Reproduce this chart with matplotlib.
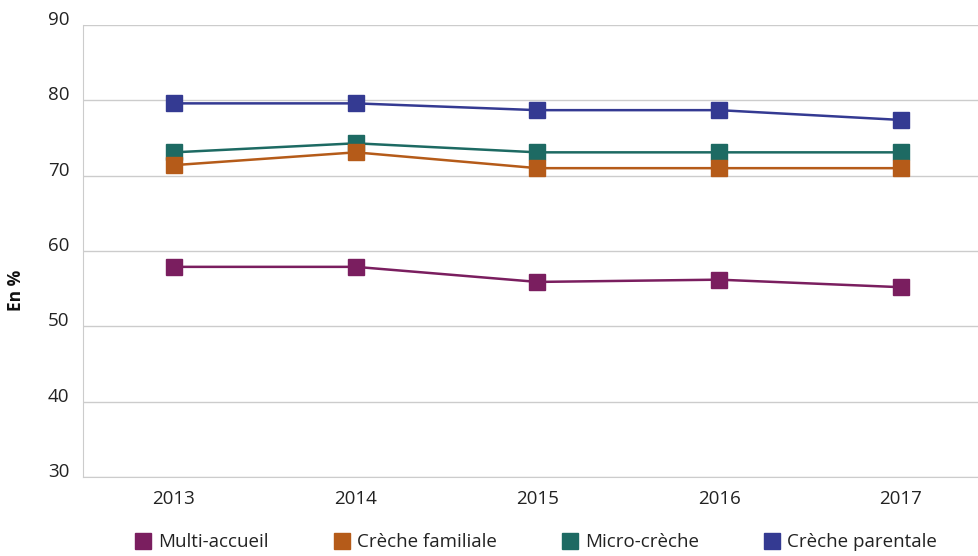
import matplotlib.pyplot as plt
from matplotlib.lines import Line2D

plt.rcParams['font.family'] = ['Open Sans', 'DejaVu Sans']

years = ["2013", "2014", "2015", "2016", "2017"]
multi_accueil = [57.9, 57.9, 55.9, 56.2, 55.2]
creche_familiale = [71.4, 73.1, 71.0, 71.0, 71.0]
micro_creche = [73.1, 74.3, 73.1, 73.1, 73.1]
creche_parentale = [79.6, 79.6, 78.7, 78.7, 77.4]

series = [
    ("Multi-accueil", multi_accueil, "#7a1e5f", 3),
    ("Crèche familiale", creche_familiale, "#b55b19", 5),
    ("Micro-crèche", micro_creche, "#1d6a63", 4),
    ("Crèche parentale", creche_parentale, "#343a92", 6),
]

fig = plt.figure(figsize=(9.79, 5.56), dpi=100)
ax = fig.add_axes([0.0848, 0.142, 0.9152, 0.813])

x = range(len(years))
for name, vals, color, z in series:
    ax.plot(x, vals, color=color, lw=1.8, marker="s", markersize=11.5,
            zorder=z, label=name)

ax.set_xlim(-0.5, 4.43)
ax.set_ylim(30, 90)
ax.set_yticks(range(30, 91, 10))
ax.set_xticks(list(x))
ax.set_xticklabels(years)
ax.yaxis.grid(True, color="#cccccc", lw=1)
ax.set_axisbelow(True)
for s in ["top", "right"]:
    ax.spines[s].set_visible(False)
for s in ["left", "bottom"]:
    ax.spines[s].set_color("#cccccc")
ax.tick_params(length=0, labelsize=13.5, labelcolor="#222222")
ax.tick_params(axis="x", pad=9)
ax.tick_params(axis="y", pad=10)
for lab in ax.get_yticklabels():
    lab.set_verticalalignment("baseline")
ax.set_ylabel("En %", fontsize=12.5, fontweight="bold", color="#111111")
ax.yaxis.set_label_coords(-0.0647, 0.414)

handles = [Line2D([], [], ls="none", marker="s", markersize=11.5, color=c)
           for _, _, c, _ in series]
fig.legend(handles, [n for n, _, _, _ in series], loc="lower center",
           bbox_to_anchor=(0.547, -0.022), ncol=4, frameon=False, fontsize=13.5,
           handletextpad=0.3, columnspacing=3.4, handlelength=1.0,
           labelcolor="#222222")

fig.savefig("out.png", dpi=100)
